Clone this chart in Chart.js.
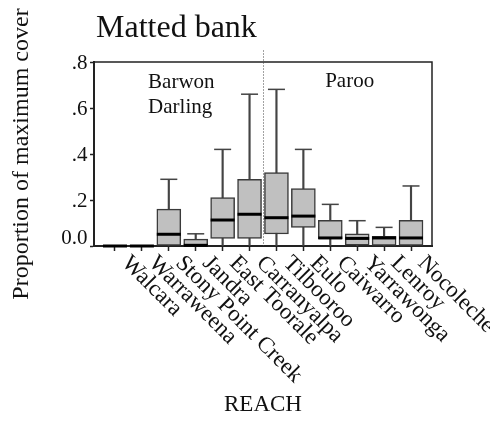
<!DOCTYPE html>
<html>
<head>
<meta charset="utf-8">
<script src="https://cdn.jsdelivr.net/npm/chart.js@4/dist/chart.umd.min.js"></script>
<style>
  html, body { margin: 0; padding: 0; background: #fff; }
  #wrap { width: 490px; height: 434px; }
</style>
</head>
<body>
<div id="wrap"><canvas id="c" width="490" height="434"></canvas></div>
<script>
// Reaches along the river, Barwon-Darling first, then Paroo
const reaches = ['Walcara', 'Warraweena', 'Stony Point Creek', 'Jandra', 'East Toorale',
  'Carranyalpa', 'Tilbooroo', 'Eulo', 'Caiwarro', 'Yarrawonga', 'Lenroy', 'Nocoleche'];

// Box-plot summary of proportion of maximum cover per reach
const whiskerLow  = [0, 0, 0, 0, 0, 0, 0, 0, 0, 0, 0, 0];
const quartile1   = [0, 0, 0, 0, 0.033, 0.033, 0.052, 0.081, 0.032, 0.004, 0, 0];
const medians     = [0, 0, 0.051, 0.003, 0.113, 0.138, 0.123, 0.13, 0.035, 0.033, 0.035, 0.035];
const quartile3   = [0, 0, 0.16, 0.03, 0.21, 0.29, 0.319, 0.25, 0.112, 0.053, 0.042, 0.112];
const whiskerHigh = [0, 0, 0.29, 0.053, 0.42, 0.66, 0.681, 0.42, 0.181, 0.11, 0.081, 0.261];

// Y axis ticks and their printed labels
const yTicks = [0.8, 0.6, 0.4, 0.2, 0];
const yTickLabels = ['.8', '.6', '.4', '.2', '0.0'];

// River groups, split between Carranyalpa and Tilbooroo
const groupSplit = 5.5;
const groupNames = [['Barwon', 'Darling'], ['Paroo']];

const SERIF = "'Liberation Serif', 'Times New Roman', Times, serif";
const INK = '#222';

const boxes    = reaches.map((_, i) => ({ x: i, y: [quartile1[i], quartile3[i]] }));
const whiskers = reaches.map((_, i) => ({ x: i, y: [whiskerLow[i], whiskerHigh[i]] }));
const caps     = reaches.map((_, i) => ({ x: i, y: whiskerHigh[i] }));
const mids     = reaches.map((_, i) => ({ x: i, y: medians[i] }));

// Frame, group divider and all axis text
const decorations = {
  id: 'decorations',
  afterDatasetsDraw(chart) {
    const { ctx, chartArea: a, scales: { x, y } } = chart;
    ctx.save();

    // top and right edges of the frame
    ctx.strokeStyle = INK;
    ctx.lineWidth = 1.5;
    ctx.beginPath();
    ctx.moveTo(a.left, a.top);
    ctx.lineTo(a.right, a.top);
    ctx.lineTo(a.right, a.bottom);
    ctx.stroke();

    // dotted divider between the two rivers
    const dx = Math.round(x.getPixelForValue(groupSplit)) + 0.5;
    ctx.strokeStyle = '#444';
    ctx.lineWidth = 1;
    ctx.setLineDash([1, 2]);
    ctx.beginPath();
    ctx.moveTo(dx, y.getPixelForValue(0.85));
    ctx.lineTo(dx, y.getPixelForValue(0));
    ctx.stroke();
    ctx.setLineDash([]);

    ctx.fillStyle = '#111';

    // group names
    ctx.font = '21px ' + SERIF;
    ctx.textBaseline = 'alphabetic';
    ctx.textAlign = 'left';
    ctx.fillText(groupNames[0][0], x.getPixelForValue(1.23), y.getPixelForValue(0.687));
    ctx.fillText(groupNames[0][1], x.getPixelForValue(1.23), y.getPixelForValue(0.578));
    ctx.textAlign = 'center';
    ctx.fillText(groupNames[1][0], x.getPixelForValue(8.72), y.getPixelForValue(0.69));

    // y tick labels (the zero label sits a little above its tick)
    ctx.font = '21px ' + SERIF;
    ctx.textAlign = 'right';
    yTicks.forEach((v, i) => {
      const py = y.getPixelForValue(v) + 7 - (v === 0 ? 9 : 0);
      ctx.fillText(yTickLabels[i], a.left - 6.5, py);
    });

    // x tick labels, slanted downwards to the right
    ctx.font = '23px ' + SERIF;
    ctx.textAlign = 'left';
    reaches.forEach((name, i) => {
      ctx.save();
      ctx.translate(x.getPixelForValue(i) + 6, a.bottom + 18);
      ctx.rotate(Math.PI / 4);
      ctx.fillText(name, 0, 0);
      ctx.restore();
    });

    // chart title
    ctx.font = '32px ' + SERIF;
    ctx.textAlign = 'left';
    ctx.fillText('Matted bank', 96, 37);

    // axis titles
    ctx.font = '23px ' + SERIF;
    ctx.textAlign = 'center';
    ctx.fillText('REACH', (a.left + a.right) / 2, 411);

    ctx.save();
    ctx.font = '24px ' + SERIF;
    ctx.translate(28, (a.top + a.bottom) / 2);
    ctx.rotate(-Math.PI / 2);
    ctx.fillText('Proportion of maximum cover', 0, 0);
    ctx.restore();

    ctx.restore();
  }
};

new Chart(document.getElementById('c'), {
  type: 'bar',
  data: {
    datasets: [
      {
        type: 'line', label: 'Median', data: mids, showLine: false, clip: false,
        pointStyle: 'line', pointRadius: 12, pointBorderWidth: 3,
        pointBorderColor: '#000', pointBackgroundColor: '#000'
      },
      {
        type: 'line', label: 'Whisker cap', data: caps, showLine: false, clip: false,
        pointStyle: 'line', pointRadius: 8.5, pointBorderWidth: 1.5,
        pointBorderColor: '#444', pointBackgroundColor: '#444'
      },
      {
        type: 'bar', label: 'Interquartile range', data: boxes, grouped: false, clip: false,
        barThickness: 24, backgroundColor: '#c0c0c0', borderColor: '#3a3a3a',
        borderWidth: 1.5, borderSkipped: false
      },
      {
        type: 'bar', label: 'Whisker', data: whiskers, grouped: false, clip: false,
        barThickness: 1.5, backgroundColor: '#444', borderWidth: 0
      }
    ]
  },
  options: {
    responsive: false,
    animation: false,
    events: [],
    layout: { padding: { left: 90, right: 58, top: 62, bottom: 183 } },
    plugins: { legend: { display: false }, tooltip: { enabled: false } },
    scales: {
      x: {
        type: 'linear', min: -0.78, max: 11.78, offset: false,
        afterBuildTicks: s => { s.ticks = reaches.map((_, i) => ({ value: i })); },
        ticks: { display: false },
        grid: { offset: false, drawOnChartArea: false, drawTicks: true, tickLength: 5, tickColor: INK, tickWidth: 1.5 },
        border: { display: true, color: INK, width: 2 }
      },
      y: {
        type: 'linear', min: 0, max: 0.8,
        afterBuildTicks: s => { s.ticks = yTicks.map(v => ({ value: v })); },
        ticks: { display: false },
        grid: { drawOnChartArea: false, drawTicks: true, tickLength: 4, tickColor: INK, tickWidth: 1.5 },
        border: { display: true, color: INK, width: 2 }
      }
    }
  },
  plugins: [decorations]
});
</script>
</body>
</html>
